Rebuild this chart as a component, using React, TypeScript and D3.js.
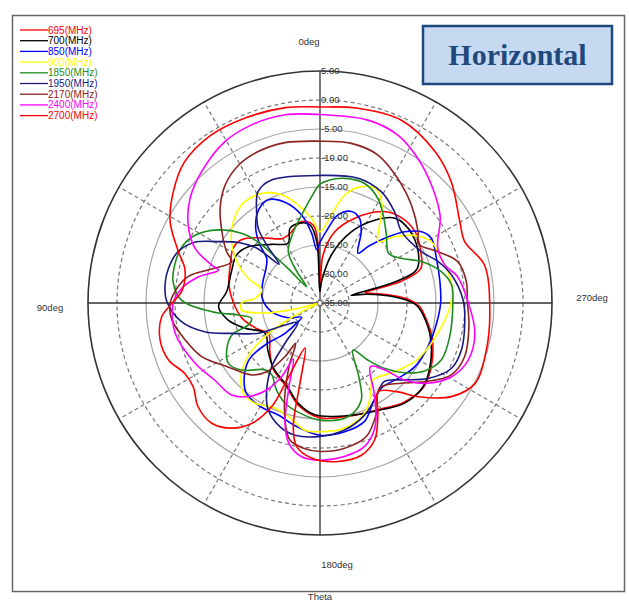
import React from "react";
import * as d3 from "d3";

// ---- data: [theta(deg, CCW from top), gain(dB)] in drawing order ----
const freqLabels = ["695(MHz)", "700(MHz)", "850(MHz)", "900(MHz)", "1850(MHz)", "1950(MHz)", "2170(MHz)", "2400(MHz)", "2700(MHz)"];
const seriesColors = ["#ff0000", "#000000", "#0000ff", "#ffff00", "#1e8c1e", "#1a1a80", "#8b2222", "#ff00ff", "#ff0000"];

const s695: [number, number][] = [[359,-33],[356.4,-26.7],[348.4,-22.5],[337.7,-19.2],[326.1,-16.0],[318.2,-14.8],[307,-14.5],[297,-15.5],[289,-16.6],[285,-20.5],[283,-27],[280,-25.5],[276,-22.5],[272,-19.5],[268,-17.8],[263,-16.8],[253,-14.8],[241,-13.0],[231,-12.0],[220,-12.6],[211,-13.8],[196,-14.8],[180,-15.2],[168,-17.0],[158,-19.5],[145,-21.0],[135,-22.8],[120.4,-24.7],[113,-23.4],[101,-21.3],[90,-20.1],[78.8,-19.0],[67,-18.2],[57.8,-17.3],[51.2,-17.6],[41.8,-19.9],[30.7,-22.1],[25,-22.1],[12.7,-20.6],[5,-21.5],[1.5,-25.5]];
const s700: [number, number][] = [[356,-31.3],[346.7,-26.5],[336.3,-21.6],[326.6,-17.9],[318.6,-15.5],[310.3,-15.1],[297.6,-15.9],[289,-17.4],[285.5,-22],[284,-29.5],[281.5,-27.5],[277,-24],[272.5,-20.5],[268.5,-18.3],[263.4,-17.1],[253,-15.1],[241.4,-13.3],[230.9,-12.1],[220.2,-12.4],[211.3,-13.6],[195.6,-14.9],[177.4,-15.7],[167.8,-17.3],[157.9,-19.7],[144.5,-21.2],[131.9,-22.9],[118.9,-24.2],[108.7,-21.4],[100.5,-18.9],[92,-17.5],[83,-18.8],[70.5,-18.8],[60,-18.4],[51.8,-19.3],[39.5,-21.9],[28,-23.3],[21.8,-21.1],[14,-20.8],[7.3,-21.4],[3,-24.4],[1,-33]];
const s850: [number, number][] = [[355,-22.6],[0,-24.5],[3.5,-25.8],[6.8,-22.9],[11.8,-19.5],[19.2,-16.6],[26.6,-15.1],[33.5,-15.8],[40.7,-18.0],[46,-20.6],[50,-23.0],[58,-24.0],[70,-24.5],[85,-25.0],[100,-26.5],[115,-29],[128,-31],[130.7,-30],[131,-27],[127.4,-23.1],[128.3,-19.6],[133.6,-17.0],[140.9,-14.9],[150,-14.4],[159.6,-14.4],[167.7,-13.5],[180,-12.2],[190.9,-12.4],[200.6,-13.2],[207.9,-15.5],[215.7,-16.9],[226,-16.3],[236,-15.3],[248,-14.9],[260,-14.6],[270,-14.2],[280,-14.0],[291,-13.5],[300.2,-12.8],[305,-13.6],[310,-15.9],[315,-19.2],[319.6,-22.2],[322.6,-24.2],[330,-20.8],[334.9,-18.9],[341,-18.3],[348.4,-19.5]];
const s900: [number, number][] = [[0,-22.7],[5.6,-20.3],[12.5,-17.7],[19.5,-15.2],[28,-13.6],[37.6,-13.3],[46.8,-14.5],[55.2,-16.4],[63.6,-19.0],[71,-21.9],[77.4,-24.7],[85.9,-23.8],[90,-21.5],[95,-21.4],[100,-25.0],[104,-31],[108,-35],[114,-33],[118,-28.2],[121.5,-23.9],[125.7,-20.1],[131.9,-16.8],[139.7,-14.6],[147,-14.4],[155.9,-15.3],[164.4,-14.7],[173.3,-12.9],[180,-12.8],[191,-13.0],[202,-14.5],[208.8,-16.9],[214.5,-18.9],[225.4,-17.8],[238.2,-15.8],[250,-14.6],[262.2,-13.3],[270,-12.4],[279.2,-12.1],[290.2,-12.7],[298.8,-13.1],[305.4,-14.9],[311.6,-17.8],[316.6,-20.4],[322.6,-18.1],[327.7,-15.0],[333.7,-13.1],[340.4,-13.7],[347.1,-15.9],[352.7,-19.7]];
const s1850: [number, number][] = [[0,-14.5],[4.5,-16.6],[11.8,-19.5],[20.5,-21.9],[31.7,-24.6],[36,-28],[39.5,-31.4],[43,-26.5],[45.5,-20.0],[48.4,-16.9],[54.3,-13.4],[61.5,-10.5],[67.8,-9.3],[75.3,-9.1],[81.7,-9.4],[88.8,-11.1],[94.6,-16.3],[98.4,-20.8],[102.6,-22.9],[107,-22.1],[110,-18.8],[116.7,-17.0],[123.4,-16.1],[130.5,-17.2],[140.6,-20.1],[146,-20.1],[153.5,-18.2],[160.8,-16.7],[169.7,-15.7],[180,-14.8],[193.8,-14.8],[203,-16.8],[207.7,-20.6],[215,-25.1],[220.1,-22.1],[224.7,-19.1],[230.5,-16.1],[237,-13.5],[244.8,-11.9],[255.4,-11.9],[270,-12.1],[277.8,-12.1],[284.5,-13.4],[292.2,-16.1],[298.8,-19.0],[305.9,-20.4],[315.7,-18.6],[324.4,-16.3],[331,-14.4],[339.5,-13.0],[348.8,-13.1],[356,-13.8]];
const s1950: [number, number][] = [[0,-13.0],[21.5,-12.2],[29,-13.0],[34.7,-15.8],[39.6,-18.3],[42.6,-21.4],[46.5,-25.3],[49,-20.6],[53.4,-17.5],[58.9,-14.5],[64.1,-11.0],[70,-9.0],[77.1,-8.2],[83.4,-8.1],[89.5,-8.6],[97.7,-10.9],[104,-14.5],[109,-18.9],[116.2,-23.2],[122.2,-27.9],[131.4,-29.9],[139,-25.8],[142.8,-21.2],[148.5,-17.4],[154.2,-14.5],[162,-12.6],[169.3,-11.8],[180,-12.0],[191,-12.7],[201.7,-14.2],[211,-16.2],[219.4,-17.5],[227.7,-15.3],[235,-12.3],[243.5,-9.7],[251.6,-9.3],[262,-9.8],[271,-10.3],[282,-11.8],[289.3,-13.4],[296.9,-15.4],[311.3,-16.3],[320.7,-14.7],[331.2,-13.1],[343,-12.5]];
const s2170: [number, number][] = [[0,-7.1],[12.3,-6.7],[22.2,-6.8],[30.6,-7.4],[38.8,-8.9],[46.6,-11.3],[54,-14.1],[61.2,-16.6],[65,-18.2],[72.6,-15.4],[78.7,-11.8],[85.5,-9.9],[91,-9.1],[96.5,-9.3],[105.3,-10.9],[114.4,-12.6],[124.8,-15.7],[136.5,-17.9],[142.2,-20.0],[146.9,-24.0],[148.9,-26.9],[154,-22.8],[158.8,-18.3],[163.3,-14.0],[167.6,-10.8],[173.5,-9.8],[180,-9.4],[189.6,-9.6],[199,-10.6],[207,-13.6],[215,-17.1],[225.4,-15.3],[234,-12.0],[241.3,-9.2],[249.6,-8.4],[261,-9.0],[271,-9.6],[278.3,-9.5],[286.7,-10.2],[293.5,-12.8],[301,-15.2],[306,-14.1],[317,-11.9],[328,-9.7],[338.6,-7.6],[348.9,-6.95]];
const s2400: [number, number][] = [[0,-2.5],[10.5,-2.0],[21,-2.1],[30.5,-2.7],[42,-4.5],[51,-6.2],[59.4,-8.6],[66.4,-11.5],[70.7,-15.2],[72,-16.6],[77.8,-13.6],[84,-11.0],[90,-9.7],[101.8,-9.5],[115.8,-11.1],[126.3,-12.5],[136.2,-13.0],[142.6,-14.7],[148.5,-17.4],[152.5,-20.7],[154.5,-24.3],[159.7,-19.6],[163.8,-13.4],[167.5,-10.2],[173.2,-8.3],[180,-7.9],[189,-8.2],[197.3,-9.1],[204.1,-11.7],[210.3,-16.3],[218.5,-21.0],[224,-19.0],[227.7,-15.3],[233.4,-11.8],[240.7,-9.0],[248.9,-7.6],[259,-7.8],[270,-9.4],[281,-10.9],[287,-12.5],[295,-12.6],[306,-9.4],[316.7,-7.0],[325.9,-4.9],[335,-3.1],[345.3,-2.4]];
const s2700: [number, number][] = [[0,-1.2],[10,-0.8],[22,-0.6],[33,-0.5],[44,-1.3],[53,-3.3],[61.5,-5.6],[70,-9.0],[76,-11.0],[85,-11.1],[91,-9.1],[95,-7.6],[103,-6.7],[110.6,-7.1],[117.5,-8.7],[123.4,-8.8],[130.4,-7.4],[138,-7.1],[144.8,-8.6],[150.4,-11.1],[155,-15.3],[157,-21.2],[161.7,-26.8],[166,-20.7],[167.8,-13.2],[170.8,-9.9],[177,-8.2],[186.5,-7.5],[195.2,-7.8],[201.8,-9.6],[207.7,-13.5],[213.2,-16.7],[221.3,-14.6],[226.3,-11.6],[234.5,-7.2],[242.5,-4.9],[254.2,-5.2],[267.6,-5.7],[283,-5.9],[293,-7.9],[300.2,-7.1],[312.7,-4.2],[322.8,-2.2],[336,-0.5],[349,-0.8]];

const seriesData = [s695, s700, s850, s900, s1850, s1950, s2170, s2400, s2700];
const ringValues = [5, 0, -5, -10, -15, -20, -25, -30, -35];
const ringLabels = ["5.00", "0.00", "-5.00", "-10.00", "-15.00", "-20.00", "-25.00", "-30.00", "-35.00"];
const spokeAngles = [30, 60, 120, 150, 210, 240, 300, 330];
const angleLabels = ["0deg", "90deg", "180deg", "270deg"];
const axisTitle = "Theta";
const chartTitle = "Horizontal";

const CX = 320;
const CY = 303;
const R = 232;

export default function App() {
  const r = d3.scaleLinear().domain([-35, 5]).range([0, R]).clamp(true);
  const toXY = (deg: number, v: number): [number, number] => {
    const t = (deg * Math.PI) / 180;
    const rr = r(v);
    return [CX - rr * Math.sin(t), CY - rr * Math.cos(t)];
  };
  const line = d3.line<[number, number]>().curve(d3.curveCatmullRomClosed.alpha(0.5));
  const font = "Liberation Sans, Arial, sans-serif";

  return (
    <svg width={629} height={600} style={{ position: "absolute", left: 0, top: 0, background: "#fff" }}>
      <rect x={12.5} y={15.5} width={612} height={576} fill="#fff" stroke="#666" strokeWidth={1.5} />
      {/* rings */}
      {ringValues.slice(1, -1).map((v, i) => (
        <circle key={v} cx={CX} cy={CY} r={r(v)} fill="none"
          stroke={i % 2 === 0 ? "#777" : "#a6a6a6"} strokeWidth={1.2}
          strokeDasharray={i % 2 === 0 ? "4,3" : undefined} />
      ))}
      {spokeAngles.map((a) => {
        const [x, y] = toXY(a, 5);
        return <line key={a} x1={CX} y1={CY} x2={x} y2={y} stroke="#777" strokeWidth={1.2} strokeDasharray="4,3" />;
      })}
      <circle cx={CX} cy={CY} r={R} fill="none" stroke="#333" strokeWidth={1.6} />
      <line x1={CX - R} y1={CY} x2={CX + R} y2={CY} stroke="#333" strokeWidth={1.3} />
      <line x1={CX} y1={CY - R} x2={CX} y2={CY + R} stroke="#333" strokeWidth={1.3} />
      {/* series */}
      {seriesData.map((d, i) => (
        <path key={i} d={line(d.map(([a, v]) => toXY(a, v))) || ""} fill="none" stroke={seriesColors[i]} strokeWidth={1.6} />
      ))}
      <circle cx={CX} cy={CY} r={2.5} fill="#fff" stroke="#666" strokeWidth={1} />
      {/* ring labels */}
      {ringValues.map((v, i) => (
        <text key={v} x={CX + 1} y={CY - r(v)} dy="0.35em" fontFamily={font} fontSize={9.5} fill="#333">{ringLabels[i]}</text>
      ))}
      {/* angle labels */}
      <text x={309} y={42} dy="0.35em" textAnchor="middle" fontFamily={font} fontSize={9.5} fill="#333">{angleLabels[0]}</text>
      <text x={50} y={308} dy="0.35em" textAnchor="middle" fontFamily={font} fontSize={9.5} fill="#333">{angleLabels[1]}</text>
      <text x={337} y={565} dy="0.35em" textAnchor="middle" fontFamily={font} fontSize={9.5} fill="#333">{angleLabels[2]}</text>
      <text x={592} y={298} dy="0.35em" textAnchor="middle" fontFamily={font} fontSize={9.5} fill="#333">{angleLabels[3]}</text>
      <text x={320} y={600} textAnchor="middle" fontFamily={font} fontSize={9.5} fill="#333">{axisTitle}</text>
      {/* legend */}
      {freqLabels.map((f, i) => {
        const y = 30 + i * 10.7;
        return (
          <g key={f}>
            <line x1={20} y1={y} x2={48} y2={y} stroke={seriesColors[i]} strokeWidth={1.3} />
            <text x={48} y={y} dy="0.35em" fontFamily={font} fontSize={10} fill={seriesColors[i]}>{f}</text>
          </g>
        );
      })}
      {/* title box */}
      <rect x={423} y={26} width={189} height={58} fill="#c6d9f1" stroke="#1f497d" strokeWidth={2.5} />
      <text x={517.5} y={65} textAnchor="middle" fontFamily="Liberation Serif, Times New Roman, serif" fontWeight="bold" fontSize={30} fill="#1f497d">{chartTitle}</text>
    </svg>
  );
}
